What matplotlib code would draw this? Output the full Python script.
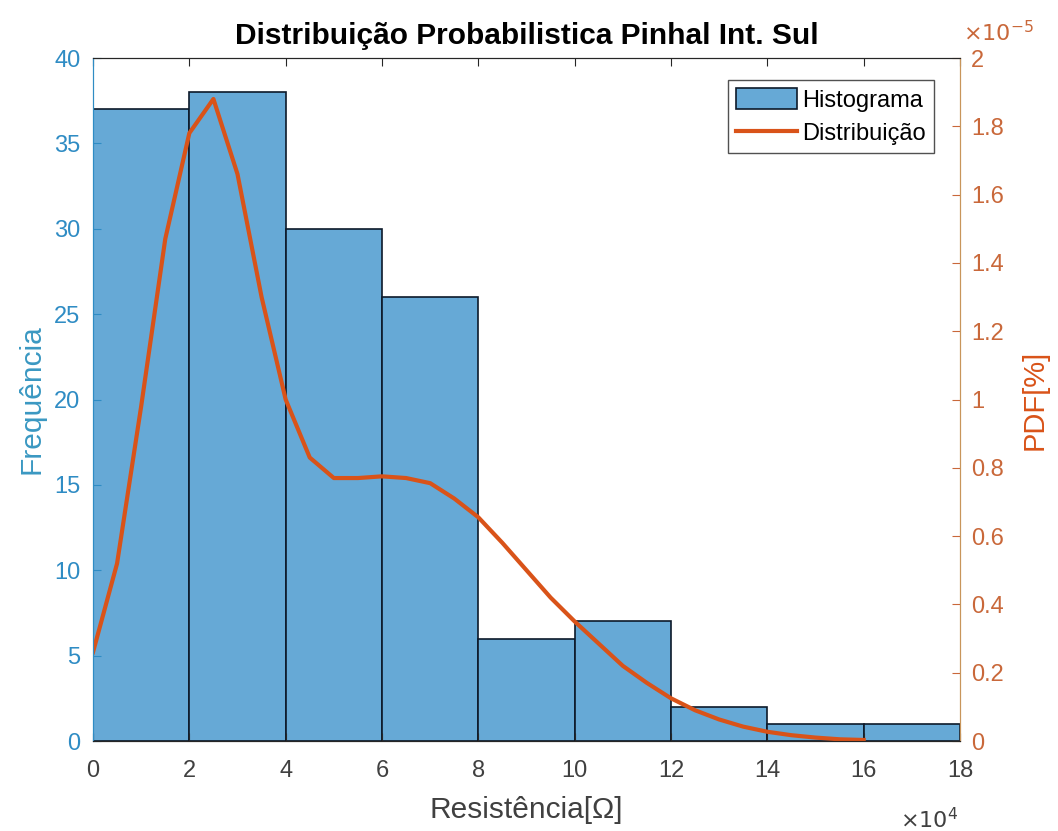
import numpy as np
import matplotlib
matplotlib.use('Agg')
import matplotlib.pyplot as plt
from matplotlib.ticker import FuncFormatter

plt.rcParams['font.family'] = ['Liberation Sans', 'DejaVu Sans']

# histogram of measured resistances (ohm)
bin_edges = [0, 20000, 40000, 60000, 80000, 100000, 120000, 140000, 160000, 180000]
counts = [37, 38, 30, 26, 6, 7, 2, 1, 1]

# fitted probability density, sampled every 5000 ohm
pdf_x = [0, 5000, 10000, 15000, 20000, 25000, 30000, 35000, 40000, 45000,
         50000, 55000, 60000, 65000, 70000, 75000, 80000, 85000, 90000, 95000,
         100000, 105000, 110000, 115000, 120000, 125000, 130000, 135000, 140000,
         145000, 150000, 155000, 160000]
pdf_y = [0.26e-5, 0.52e-5, 0.98e-5, 1.47e-5, 1.78e-5, 1.88e-5, 1.66e-5, 1.30e-5,
         1.00e-5, 0.83e-5, 0.77e-5, 0.77e-5, 0.775e-5, 0.77e-5, 0.755e-5, 0.71e-5,
         0.655e-5, 0.58e-5, 0.50e-5, 0.42e-5, 0.35e-5, 0.285e-5, 0.22e-5, 0.17e-5,
         0.125e-5, 0.09e-5, 0.063e-5, 0.042e-5, 0.027e-5, 0.017e-5, 0.010e-5,
         0.005e-5, 0.003e-5]

c_left = '#2f8cc4'
c_right = '#c9683a'
bar_col = '#66a9d6'
line_col = '#d95319'

fig = plt.figure(figsize=(10.58, 8.31), dpi=100)
ax = fig.add_axes([0.0879, 0.1083, 0.8195, 0.8219])

edges = np.array(bin_edges)
h = ax.bar(edges[:-1], counts, width=np.diff(edges), align='edge',
           color=bar_col, edgecolor='#0d1a2a', linewidth=1.2, label='Histograma')
ax.set_xlim(0, 180000)
ax.set_ylim(0, 40)
ax.set_xticks(np.arange(0, 180001, 20000))
ax.set_yticks(np.arange(0, 41, 5))
ax.xaxis.set_major_formatter(FuncFormatter(lambda v, p: '%g' % (v / 1e4)))
ax.tick_params(axis='y', colors=c_left, labelsize=17, direction='in', length=6, pad=9)
ax.tick_params(axis='x', colors='#262626', labelsize=17, direction='in', length=6,
               top=True, pad=14)
for lab in ax.get_xticklabels():
    lab.set_color('#404040')
ax.set_ylabel('Frequência', color='#3a98c2', fontsize=21.5, labelpad=6)
ax.set_xlabel('Resistência[Ω]', color='#404040', fontsize=21.5, labelpad=10)
ax.set_title('Distribuição Probabilistica Pinhal Int. Sul', fontsize=21.5,
             fontweight='bold', pad=10)

ax2 = ax.twinx()
ln, = ax2.plot(pdf_x, pdf_y, color=line_col, linewidth=3, label='Distribuição')
ax2.set_ylim(0, 2e-5)
ax2.set_yticks(np.arange(0, 2.01e-5, 0.2e-5))
ax2.yaxis.set_major_formatter(FuncFormatter(lambda v, p: '%g' % round(v / 1e-5, 2)))
ax2.tick_params(axis='y', colors=c_right, labelsize=17, direction='in', length=6, pad=8)
ax2.set_ylabel('PDF[%]', color=line_col, fontsize=21, labelpad=12)

for a in (ax, ax2):
    a.spines['left'].set_color(c_left)
    a.spines['right'].set_color('#c8955a')
    a.spines['top'].set_color('#262626')
    a.spines['bottom'].set_color('#262626')

ax2.text(1.003, 1.018, r'$\times10^{-5}$', transform=ax2.transAxes, color=c_right,
         fontsize=16, ha='left', va='bottom')
ax.text(0.998, -0.098, r'$\times10^{4}$', transform=ax.transAxes, color='#404040',
        fontsize=16, ha='right', va='top')

leg = ax2.legend([h, ln], ['Histograma', 'Distribuição'], loc='upper right',
                 bbox_to_anchor=(0.97, 0.968), fontsize=17, frameon=True,
                 fancybox=False, edgecolor='#262626', borderpad=0.35,
                 handlelength=2.6, handleheight=1.0, handletextpad=0.2,
                 labelspacing=0.4, borderaxespad=0)
leg.get_frame().set_linewidth(1.0)

fig.savefig('out.png', dpi=100)
